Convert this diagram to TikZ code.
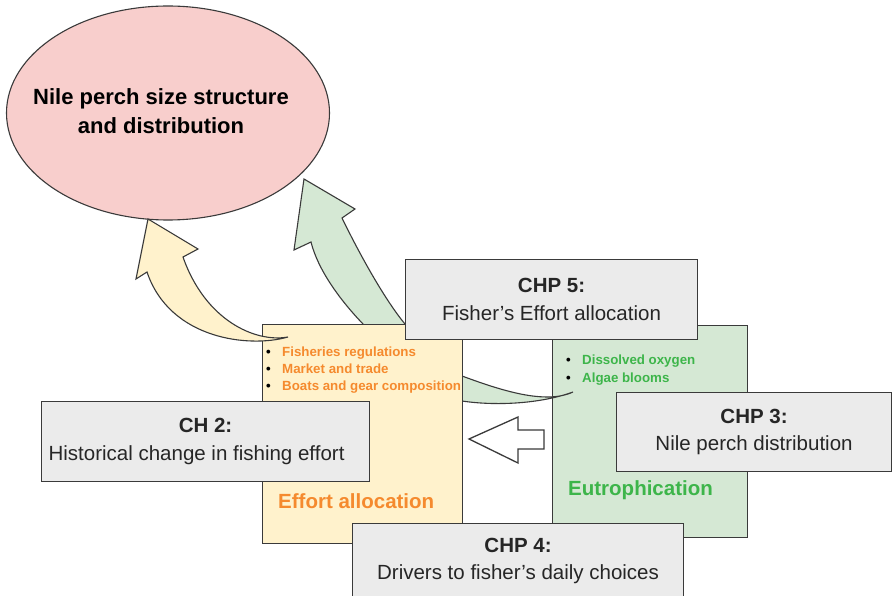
\documentclass[tikz,border=0pt]{standalone}
\usepackage{fontspec}
\setmainfont{Liberation Sans}
\setsansfont{Liberation Sans}
\usetikzlibrary{shapes.geometric}
\definecolor{perchRed}{HTML}{F8CECC}
\definecolor{effortFill}{HTML}{FFF2CC}
\definecolor{eutroFill}{HTML}{D5E8D4}
\definecolor{chapGray}{HTML}{EBEBEB}
\definecolor{lineGray}{HTML}{3A3A3A}
\definecolor{effortText}{HTML}{F58A2E}
\definecolor{eutroText}{HTML}{3DB54A}
\newcommand{\blt}[1]{\makebox[16pt][l]{\textcolor{black}{\textbullet}}#1}
\tikzset{%
            base/.style = {rectangle, draw=lineGray, line width=1.1pt,
                           inner sep=0pt, anchor=north west, font=\sffamily},
  box0/.style = {base, fill=chapGray, align=center, text=black!85,
                 font=\sffamily\fontsize{20.5}{27.5}\selectfont},
  box1/.style = {base, fill=effortFill},
  box2/.style = {base, fill=eutroFill},
  void/.style = {inner sep=0pt, align=left, font=\sffamily\bfseries\fontsize{13.3}{17}\selectfont},
  flow/.style = {draw=lineGray, line width=1.1pt},
}

\begin{document}
\begin{tikzpicture}[x=1pt, y=-1pt]
  \useasboundingbox[fill=white] (0,0) rectangle (892,596);

  % target
  \node (onPerch)  [ellipse, draw=lineGray, line width=1.1pt, fill=perchRed,
                    minimum width=323, minimum height=214] at (168,113) {};
  \node (onPerchT) [font=\sffamily\bfseries\fontsize{22}{29}\selectfont, align=center]
                   at ([xshift=-7pt, yshift=2pt]onPerch.center)
  {Nile perch size structure \\ and distribution};

  % drivers
  \node (onEutro)  [box2, minimum width=195, minimum height=212] at (552,325) {};

  \draw[flow, fill=eutroFill] (573,392) .. controls (540,404) and (495,406) .. (462,401)
        .. controls (420,395) and (375,345) .. (363,324)
        .. controls (340,300) and (318,270) .. (311,242)
        -- (294,250) -- (304,179) -- (355,209) -- (342,218)
        .. controls (360,255) and (385,300) .. (405,324)
        .. controls (425,350) and (440,368) .. (462,376)
        .. controls (500,390) and (545,405) .. (573,392) -- cycle;

  \node (onEffort) [box1, minimum width=200, minimum height=219] at (262,324) {};

  \draw[flow, fill=effortFill] (288,337) .. controls (250,348) and (170,340) .. (147,272)
        -- (136,279) -- (148,219) -- (198,249) -- (183,257)
        .. controls (205,320) and (255,343) .. (288,337) -- cycle;

  \node (onEffortL) [void, anchor=north west, text=effortText] at (266,347)
  {\blt{Fisheries regulations} \\
   \blt{Market and trade} \\
   \blt{Boats and gear composition}};
  \node (onEutroL)  [void, anchor=north west, text=eutroText] at (566,354.5)
  {\blt{Dissolved oxygen} \\[1.5pt]
   \blt{Algae blooms}};

  \node (onEffortT) [anchor=west, inner sep=0pt, text=effortText,
                     font=\sffamily\bfseries\fontsize{20.5}{25}\selectfont] at (278,501) {Effort allocation};
  \node (onEutroT)  [anchor=west, inner sep=0pt, text=eutroText,
                     font=\sffamily\bfseries\fontsize{20.5}{25}\selectfont] at (568,490) {Eutrophication};

  % link between drivers
  \draw[flow, line width=1.3pt, fill=white] (469,439) -- (518,417) -- (518,430) -- (544,430)
        -- (544,449) -- (518,449) -- (518,463) -- cycle;

  % chapters
  \node (onChp5) [box0, minimum width=292, minimum height=80] at (405,259)
  {\textbf{CHP 5:} \\ Fisher’s Effort allocation};
  \node (onChp2) [box0, minimum width=328, minimum height=80] at (41,401)
  {\textbf{CH 2:} \\ Historical change in fishing effort\hspace*{18pt}};
  \node (onChp3) [box0, minimum width=275, minimum height=79] at (616,392)
  {\textbf{CHP 3:} \\ Nile perch distribution};
  \node (onChp4) [box0, minimum width=331, minimum height=75] at (352,523)
  {\textbf{CHP 4:} \\ Drivers to fisher’s daily choices};
\end{tikzpicture}
\end{document}
